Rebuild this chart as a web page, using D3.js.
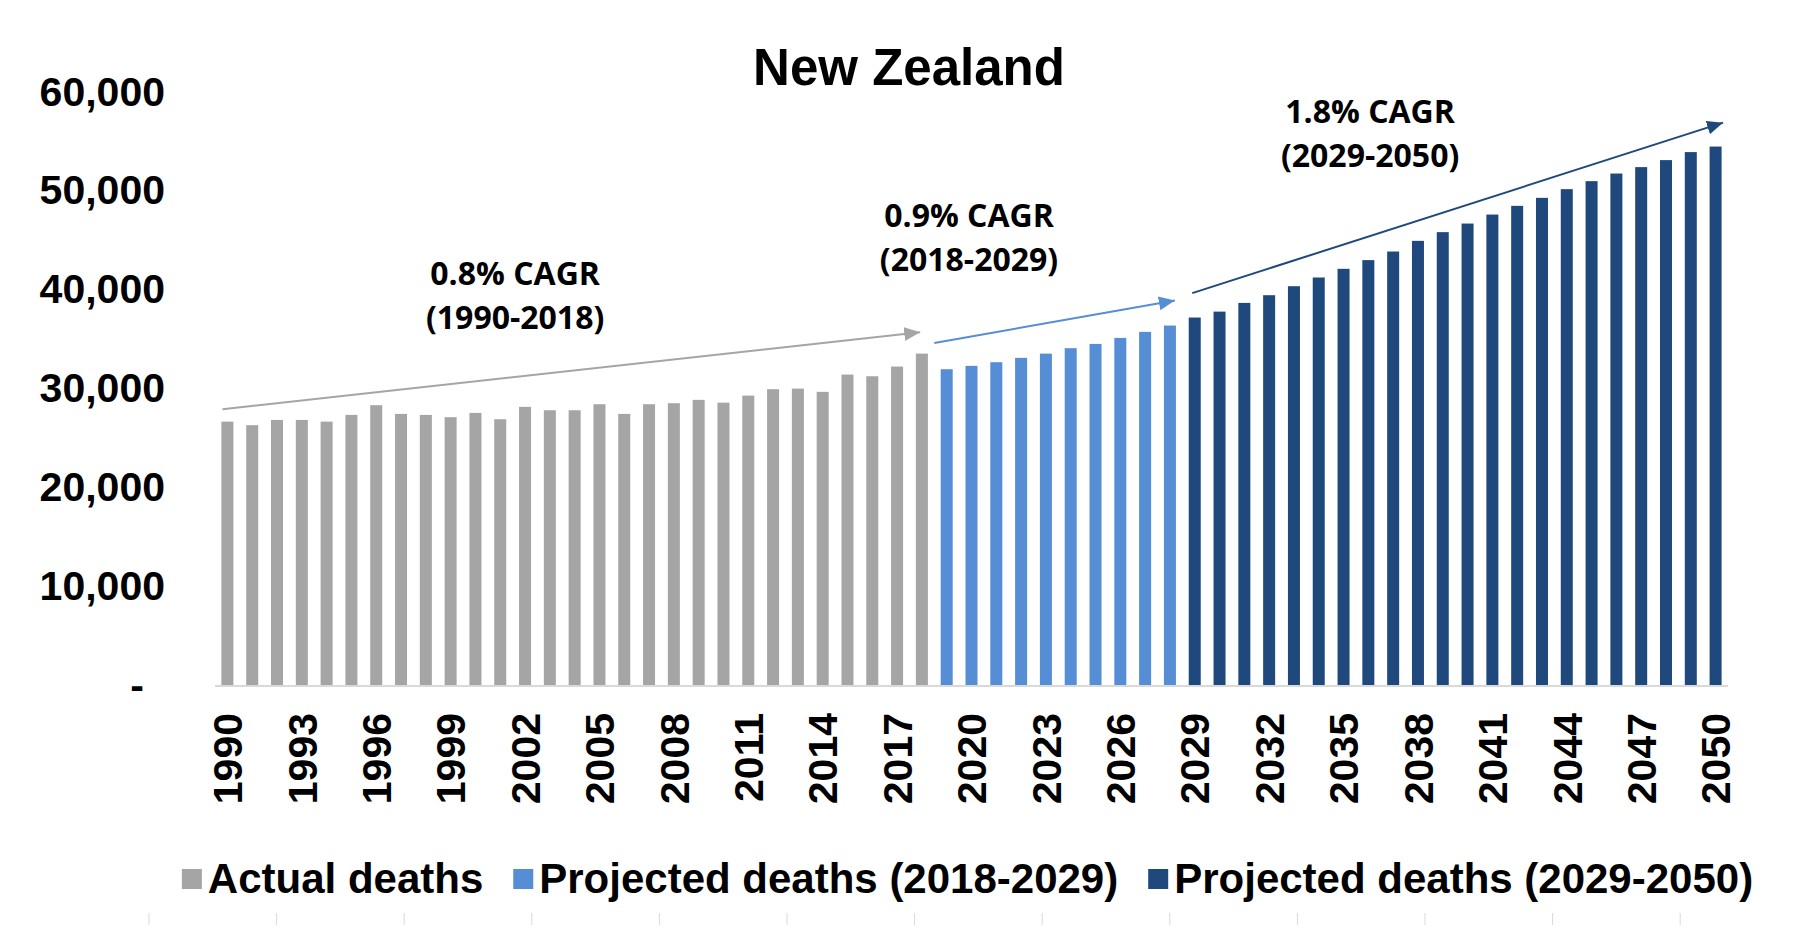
<!DOCTYPE html>
<html>
<head>
<meta charset="utf-8">
<script src="https://cdn.jsdelivr.net/npm/d3@7"></script>
<style>
  html, body { margin: 0; padding: 0; background: #ffffff; }
  svg { display: block; }
</style>
</head>
<body>
<div id="chart"></div>
<script>
// ---------------- DATA ----------------
const years = [1990,1991,1992,1993,1994,1995,1996,1997,1998,1999,
               2000,2001,2002,2003,2004,2005,2006,2007,2008,2009,
               2010,2011,2012,2013,2014,2015,2016,2017,2018,2019,
               2020,2021,2022,2023,2024,2025,2026,2027,2028,2029,
               2030,2031,2032,2033,2034,2035,2036,2037,2038,2039,
               2040,2041,2042,2043,2044,2045,2046,2047,2048,2049,2050];

const actualYears = years.filter(y => y <= 2018);
const actualDeaths = [26650,26290,26820,26820,26650,27330,28310,27430,27330,27100,
                      27530,26890,28140,27800,27800,28410,27430,28410,28510,28850,
                      28570,29280,29930,29990,29660,31410,31240,32220,33530];

const proj1Years = years.filter(y => y >= 2019 && y <= 2028);
const proj1Deaths = [31950,32290,32660,33100,33530,34080,34510,35120,35730,36370];

const proj2Years = years.filter(y => y >= 2029);
const proj2Deaths = [37180,37780,38660,39440,40350,41230,42110,42990,43860,44940,
                     45820,46690,47600,48480,49290,50170,50980,51750,52400,53110,
                     53920,54480];

const seriesNames = ["Actual deaths", "Projected deaths (2018-2029)", "Projected deaths (2029-2050)"];
const seriesColors = ["#A5A5A5", "#558ED5", "#1F497D"];

const xTickYears = [1990,1993,1996,1999,2002,2005,2008,2011,2014,2017,2020,
                    2023,2026,2029,2032,2035,2038,2041,2044,2047,2050];
const yTicks = [0,10000,20000,30000,40000,50000,60000];

// trend arrows (in data units: fractional year, deaths)
const arrowX0 = [1989.8, 2018.5, 2028.9];
const arrowY0 = [27900, 34600, 39650];
const arrowX1 = [2017.93, 2028.2, 2050.3];
const arrowY1 = [35700, 38900, 56900];

// CAGR labels (centre year, baseline value of first line)
const cagrLine1 = ["0.8% CAGR", "0.9% CAGR", "1.8% CAGR"];
const cagrLine2 = ["(1990-2018)", "(2018-2029)", "(2029-2050)"];
const cagrX = [2001.6, 2019.9, 2036.07];
const cagrY = [40490, 46360, 56880];

const titleText = "New Zealand";

// ---------------- LAYOUT ----------------
const W = 1800, H = 944;
const margin = {top: 92, right: 72, bottom: 259, left: 215};
const plotW = W - margin.left - margin.right;
const plotH = H - margin.top - margin.bottom;

const axisFont = "'Liberation Sans', Arial, Helvetica, sans-serif";
const noteFont = "'Open Sans', 'Noto Sans', sans-serif";

const svg = d3.select("#chart").append("svg")
  .attr("width", W).attr("height", H)
  .attr("viewBox", `0 0 ${W} ${H}`);

const defs = svg.append("defs");
seriesColors.forEach((c, i) => {
  defs.append("marker")
    .attr("id", "arrow" + i)
    .attr("markerUnits", "userSpaceOnUse")
    .attr("viewBox", "0 0 16 14")
    .attr("refX", 16).attr("refY", 7)
    .attr("markerWidth", 16).attr("markerHeight", 14)
    .attr("orient", "auto")
    .append("path").attr("d", "M0,0 L16,7 L0,14 Z").attr("fill", c);
});

const g = svg.append("g").attr("transform", `translate(${margin.left},${margin.top})`);

const x = d3.scaleBand().domain(years).range([0, plotW])
  .paddingInner(0.516).paddingOuter(0.258);
const y = d3.scaleLinear().domain([0, 60000]).range([plotH, 0]);
const xYear = d3.scaleLinear().domain([1990, 2050])
  .range([x(1990) + x.bandwidth() / 2, x(2050) + x.bandwidth() / 2]);

// Title
svg.append("text")
  .attr("x", 909).attr("y", 85)
  .attr("text-anchor", "middle")
  .style("font-family", axisFont).style("font-weight", "bold").style("font-size", "51px")
  .attr("fill", "#000")
  .text(titleText);

// Y axis (labels only)
const yAxis = g.append("g").call(
  d3.axisLeft(y).tickValues(yTicks).tickSize(0).tickPadding(50)
    .tickFormat(d => d === 0 ? "-" : d3.format(",")(d)));
yAxis.select(".domain").remove();
yAxis.selectAll("text")
  .style("font-family", axisFont).style("font-weight", "bold").style("font-size", "41px")
  .attr("fill", "#000")
  .attr("x", d => d === 0 ? -71 : -50);

// Bars
const series = [
  {years: actualYears, values: actualDeaths},
  {years: proj1Years, values: proj1Deaths},
  {years: proj2Years, values: proj2Deaths}
];
series.forEach((s, i) => {
  g.append("g").selectAll("rect")
    .data(s.years.map((yr, k) => ({year: yr, value: s.values[k]})))
    .join("rect")
    .attr("x", d => x(d.year))
    .attr("width", x.bandwidth())
    .attr("y", d => y(d.value))
    .attr("height", d => plotH - y(d.value))
    .attr("fill", seriesColors[i]);
});

// X axis
const xAxis = g.append("g").attr("transform", `translate(0,${plotH})`)
  .call(d3.axisBottom(x).tickValues(xTickYears).tickSize(0));
xAxis.select(".domain").remove();
xAxis.selectAll("text")
  .style("font-family", axisFont).style("font-weight", "bold").style("font-size", "41px")
  .attr("fill", "#000")
  .attr("transform", "rotate(-90)")
  .attr("x", -28).attr("y", 0).attr("dy", "0.36em")
  .style("text-anchor", "end");

g.append("line")
  .attr("x1", 0).attr("x2", plotW)
  .attr("y1", plotH + 1).attr("y2", plotH + 1)
  .attr("stroke", "#D9D9D9").attr("stroke-width", 2);

// Trend arrows
arrowX0.forEach((v, i) => {
  g.append("line")
    .attr("x1", xYear(arrowX0[i])).attr("y1", y(arrowY0[i]))
    .attr("x2", xYear(arrowX1[i])).attr("y2", y(arrowY1[i]))
    .attr("stroke", seriesColors[i]).attr("stroke-width", 2)
    .attr("marker-end", `url(#arrow${i})`);
});

// CAGR labels
cagrX.forEach((v, i) => {
  const t = g.append("text")
    .attr("text-anchor", "middle")
    .style("font-family", noteFont).style("font-weight", "bold").style("font-size", "32px")
    .attr("fill", "#000");
  t.append("tspan").attr("x", xYear(cagrX[i])).attr("y", y(cagrY[i])).text(cagrLine1[i]);
  t.append("tspan").attr("x", xYear(cagrX[i])).attr("dy", 44).text(cagrLine2[i]);
});

// Legend
const legend = svg.append("g");
let lx = 0;
const itemGap = 30;
seriesNames.forEach((name, i) => {
  const item = legend.append("g").attr("transform", `translate(${lx},0)`);
  item.append("rect").attr("x", 0).attr("y", -24).attr("width", 20).attr("height", 20)
    .attr("fill", seriesColors[i]);
  const tx = item.append("text").attr("x", 26).attr("y", 0)
    .style("font-family", axisFont).style("font-weight", "bold").style("font-size", "42px")
    .attr("fill", "#000").text(name);
  lx += 26 + tx.node().getComputedTextLength() + itemGap;
});
const legendW = lx - itemGap;
legend.attr("transform", `translate(${margin.left + plotW / 2 - legendW / 2 - 4},893)`);

// faint frame ticks at the bottom edge
const frameTicks = d3.range(13);
const fx = d3.scaleLinear().domain([0, 12]).range([149, 149 + 12 * 127.6]);
svg.append("g").selectAll("line").data(frameTicks).join("line")
  .attr("x1", d => fx(d)).attr("x2", d => fx(d))
  .attr("y1", 913).attr("y2", 925)
  .attr("stroke", "#D9D9D9").attr("stroke-width", 1);
</script>
</body>
</html>
